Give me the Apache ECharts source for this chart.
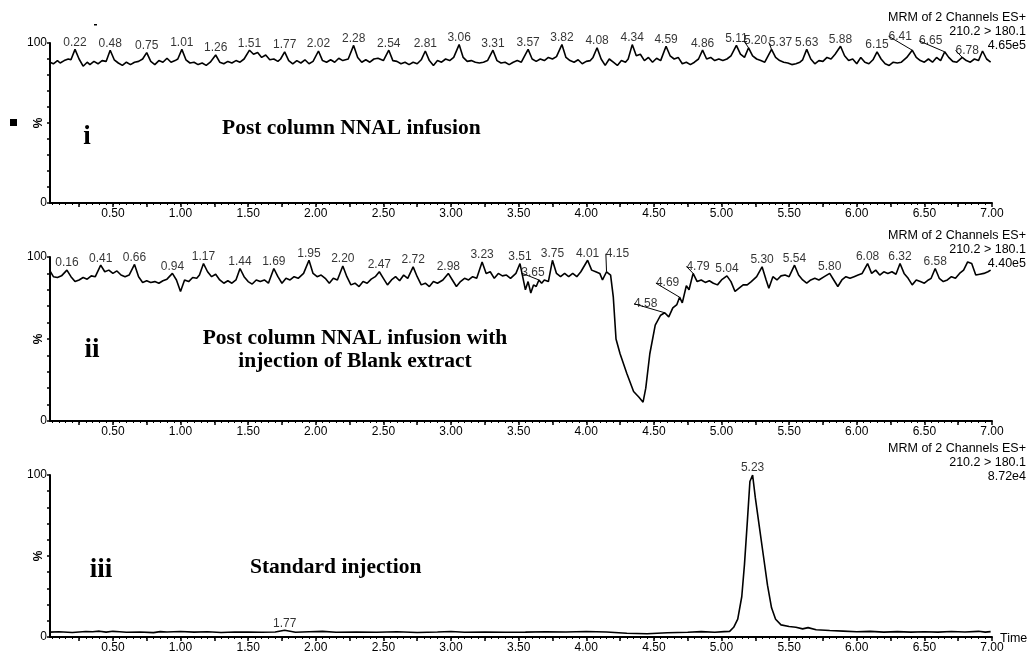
<!DOCTYPE html>
<html>
<head>
<meta charset="utf-8">
<script src="https://cdn.jsdelivr.net/npm/echarts@6/dist/echarts.min.js"></script>
<style>
html, body { margin: 0; background: #fff; }
#chart { width: 1029px; height: 659px; }
</style>
</head>
<body>
<div id="chart"></div>
<script>
// time axis tick labels (min)
const xTickLabels = ['0.50', '1.00', '1.50', '2.00', '2.50', '3.00', '3.50', '4.00', '4.50', '5.00', '5.50', '6.00', '6.50', '7.00']

// panel i : post column NNAL infusion  [time, %]
const traceI = [
    [0.035, 88], [0.06, 87], [0.09, 89], [0.11, 87.5], [0.14, 89], [0.17, 90], [0.19, 89.5], [0.22, 96], [0.25, 90], [0.28, 85.5],
    [0.31, 88], [0.33, 86.5], [0.36, 88.5], [0.39, 87], [0.42, 89], [0.45, 88.5], [0.48, 95.5], [0.51, 89.5], [0.54, 87.5], [0.57, 86],
    [0.60, 88], [0.63, 86.5], [0.66, 88], [0.69, 88.5], [0.72, 90], [0.75, 94], [0.78, 88.5], [0.81, 86.5], [0.84, 89], [0.87, 88],
    [0.90, 90.5], [0.93, 88], [0.96, 89], [0.98, 90], [1.01, 96], [1.04, 89.5], [1.07, 87.5], [1.10, 88], [1.13, 86.5], [1.16, 87.5],
    [1.19, 86], [1.22, 88], [1.26, 92.5], [1.29, 88], [1.32, 87], [1.35, 88.5], [1.38, 87.5], [1.41, 89], [1.44, 88], [1.47, 90],
    [1.51, 95.5], [1.54, 93], [1.57, 94], [1.60, 91], [1.63, 92.5], [1.66, 89.5], [1.69, 90], [1.72, 88.5], [1.74, 90], [1.77, 94.5],
    [1.80, 89], [1.83, 87], [1.86, 89], [1.89, 87.5], [1.92, 89.5], [1.95, 87], [1.98, 88.5], [2.02, 95], [2.05, 89], [2.08, 88],
    [2.11, 89.5], [2.14, 88], [2.17, 90.5], [2.20, 89], [2.24, 90], [2.28, 98.5], [2.31, 91], [2.34, 88], [2.37, 89.5], [2.40, 88],
    [2.43, 90], [2.46, 90.5], [2.50, 89], [2.54, 95.5], [2.57, 89], [2.60, 88.5], [2.63, 87], [2.66, 88], [2.69, 86.5], [2.72, 88],
    [2.75, 87], [2.78, 89.5], [2.81, 95], [2.84, 89], [2.87, 86], [2.90, 89], [2.93, 88], [2.96, 90], [2.99, 89], [3.02, 91],
    [3.06, 99], [3.09, 91], [3.12, 88.5], [3.15, 89], [3.18, 88], [3.21, 87.5], [3.24, 88], [3.27, 89], [3.31, 95.5], [3.34, 89],
    [3.37, 87.5], [3.40, 88], [3.43, 86.5], [3.46, 88], [3.49, 89], [3.52, 88], [3.57, 96], [3.60, 90], [3.63, 88.5], [3.66, 90],
    [3.69, 89], [3.72, 91], [3.75, 90], [3.78, 91.5], [3.82, 99], [3.85, 91], [3.88, 89], [3.91, 88], [3.94, 89.5], [3.97, 87],
    [4.00, 88.5], [4.03, 89], [4.05, 91], [4.08, 97], [4.11, 90], [4.14, 86], [4.17, 90], [4.20, 88], [4.23, 86], [4.26, 89],
    [4.29, 88], [4.31, 90], [4.34, 99], [4.37, 92], [4.40, 93], [4.43, 89], [4.46, 91], [4.49, 88], [4.52, 90.5], [4.55, 89],
    [4.59, 98], [4.62, 92], [4.65, 90], [4.68, 91], [4.71, 87], [4.74, 88], [4.77, 86.5], [4.80, 88], [4.83, 90], [4.86, 95.5],
    [4.89, 90], [4.92, 91], [4.95, 89], [4.98, 90], [5.01, 89], [5.04, 90], [5.07, 92], [5.11, 98.5], [5.14, 93], [5.17, 91],
    [5.20, 97], [5.23, 92], [5.26, 90], [5.29, 89], [5.32, 88], [5.37, 96], [5.40, 91], [5.43, 89], [5.46, 88], [5.49, 87.5],
    [5.52, 86.5], [5.55, 87], [5.58, 88], [5.60, 89.5], [5.63, 96], [5.66, 90], [5.69, 87], [5.72, 89], [5.75, 88.5], [5.78, 91],
    [5.81, 90], [5.84, 93], [5.88, 98], [5.91, 92], [5.94, 89], [5.97, 90], [6.00, 87], [6.03, 91], [6.06, 88], [6.09, 87],
    [6.12, 89.5], [6.15, 94.5], [6.18, 90], [6.21, 87], [6.24, 86], [6.27, 88], [6.30, 87.5], [6.33, 88], [6.37, 91], [6.41, 95.5],
    [6.44, 91], [6.47, 89], [6.50, 88], [6.53, 90], [6.56, 88], [6.59, 91], [6.62, 89], [6.65, 94.5], [6.68, 91], [6.71, 88.5],
    [6.74, 88], [6.78, 91], [6.81, 89], [6.84, 88], [6.87, 90], [6.90, 89], [6.93, 95], [6.96, 90], [6.99, 88]
]
const peaksI = [0.22, 0.48, 0.75, 1.01, 1.26, 1.51, 1.77, 2.02, 2.28, 2.54, 2.81, 3.06, 3.31, 3.57, 3.82, 4.08, 4.34, 4.59, 4.86, 5.11, 5.20, 5.37, 5.63, 5.88, 6.15, 6.41, 6.65, 6.78]

// panel ii : infusion with injection of blank extract
const traceII = [
    [0.035, 91.5], [0.06, 88], [0.09, 87.5], [0.12, 88.5], [0.16, 92], [0.19, 88], [0.22, 85], [0.25, 86], [0.28, 87.5], [0.31, 86.5],
    [0.34, 88.5], [0.37, 88], [0.41, 95], [0.44, 91], [0.47, 92], [0.50, 90], [0.53, 91.5], [0.56, 89], [0.59, 88], [0.62, 89],
    [0.66, 95.5], [0.69, 88], [0.72, 84.5], [0.75, 85.5], [0.78, 84.5], [0.81, 85], [0.84, 84], [0.87, 85.5], [0.90, 86.5], [0.94, 90],
    [0.97, 86], [1.00, 79], [1.03, 86], [1.06, 85], [1.09, 87.5], [1.12, 87], [1.14, 89], [1.17, 96], [1.20, 91], [1.23, 88],
    [1.26, 89.5], [1.29, 86], [1.32, 84], [1.35, 85.5], [1.38, 84], [1.41, 86], [1.44, 93], [1.47, 88], [1.50, 85], [1.53, 83.5],
    [1.56, 86], [1.59, 85], [1.62, 86], [1.65, 84], [1.69, 93], [1.72, 88], [1.75, 84], [1.78, 87], [1.81, 86], [1.84, 88],
    [1.87, 87], [1.91, 90], [1.95, 98], [1.98, 90], [2.01, 88], [2.04, 89], [2.07, 87], [2.10, 84], [2.13, 87], [2.16, 86],
    [2.20, 94.5], [2.23, 88], [2.26, 83], [2.29, 84], [2.32, 82], [2.35, 85], [2.38, 84], [2.41, 86.5], [2.44, 88], [2.47, 91],
    [2.50, 87], [2.53, 83], [2.56, 86], [2.59, 88], [2.62, 85.5], [2.65, 89], [2.68, 87], [2.72, 94], [2.75, 88], [2.78, 83],
    [2.81, 84], [2.84, 82], [2.87, 85], [2.90, 84], [2.94, 86], [2.98, 90], [3.01, 86], [3.04, 82], [3.07, 85], [3.10, 87],
    [3.13, 86], [3.16, 88], [3.19, 87], [3.23, 97], [3.26, 90], [3.29, 91], [3.32, 87], [3.35, 90], [3.38, 88.5], [3.41, 89],
    [3.44, 87], [3.48, 90], [3.51, 96], [3.53, 88], [3.55, 80], [3.57, 85], [3.59, 78], [3.61, 83], [3.63, 82], [3.65, 86],
    [3.67, 84], [3.69, 86], [3.72, 85], [3.75, 98], [3.78, 90], [3.81, 88], [3.84, 90], [3.87, 88], [3.90, 90], [3.93, 88],
    [3.96, 91], [4.01, 98], [4.04, 92], [4.07, 91], [4.10, 90], [4.12, 86], [4.15, 91], [4.18, 89], [4.20, 75.5], [4.22, 50],
    [4.25, 41], [4.30, 29], [4.35, 18], [4.39, 14.5], [4.42, 11.5], [4.44, 20], [4.47, 41], [4.51, 58.5], [4.55, 64.5], [4.58, 66],
    [4.61, 63.5], [4.64, 69], [4.67, 71], [4.69, 75.5], [4.71, 72], [4.74, 82.5], [4.76, 80], [4.79, 90], [4.82, 85], [4.85, 86],
    [4.88, 84.5], [4.91, 85.5], [4.94, 84], [4.97, 83], [5.00, 86], [5.04, 88.5], [5.07, 85], [5.10, 79], [5.13, 81], [5.16, 83],
    [5.19, 83], [5.22, 85], [5.26, 88], [5.30, 94], [5.33, 86], [5.35, 81], [5.38, 88], [5.41, 86], [5.44, 88.5], [5.47, 89],
    [5.50, 88], [5.54, 95], [5.57, 89], [5.60, 86], [5.63, 84], [5.66, 86], [5.69, 87], [5.72, 86], [5.76, 88], [5.80, 90],
    [5.83, 86], [5.86, 82], [5.89, 86], [5.92, 88], [5.95, 87], [5.98, 88], [6.01, 89], [6.04, 90], [6.08, 96], [6.11, 90],
    [6.14, 92], [6.17, 89], [6.20, 91], [6.23, 90], [6.26, 91], [6.29, 89.5], [6.32, 96], [6.35, 90], [6.38, 87], [6.41, 83],
    [6.44, 86], [6.47, 85], [6.50, 84], [6.53, 86], [6.55, 87], [6.58, 93], [6.61, 87], [6.64, 85], [6.67, 86], [6.70, 88],
    [6.73, 87], [6.76, 90], [6.79, 92], [6.82, 97], [6.85, 96], [6.88, 89], [6.91, 89.5], [6.94, 90], [6.97, 91], [6.99, 92]
]
const peaksII = [0.16, 0.41, 0.66, 0.94, 1.17, 1.44, 1.69, 1.95, 2.20, 2.47, 2.72, 2.98, 3.23, 3.51, 3.65, 3.75, 4.01, 4.15, 4.58, 4.69, 4.79, 5.04, 5.30, 5.54, 5.80, 6.08, 6.32, 6.58]

// panel iii : standard injection
const traceIII = [
    [0.035, 3], [0.1, 3.2], [0.2, 2.8], [0.3, 3.4], [0.35, 3.2], [0.4, 3.6], [0.45, 3], [0.5, 3.5], [0.55, 3.2], [0.6, 2.9],
    [0.7, 3.1], [0.8, 2.7], [0.85, 3.3], [0.9, 3.1], [1.0, 3.4], [1.1, 3], [1.2, 3.2], [1.3, 2.8], [1.4, 3.1], [1.5, 3],
    [1.6, 2.9], [1.7, 3.1], [1.77, 4.2], [1.85, 2.9], [1.95, 3.2], [2.05, 3.5], [2.15, 2.9], [2.3, 3.1], [2.45, 2.9], [2.6, 3.2],
    [2.75, 2.8], [2.9, 3.1], [3.0, 3.4], [3.1, 2.9], [3.25, 3.1], [3.4, 2.9], [3.55, 3], [3.7, 3.2], [3.85, 3.1], [4.0, 3.4],
    [4.15, 3.1], [4.3, 2.3], [4.45, 2], [4.6, 2.6], [4.75, 2.9], [4.85, 3.3], [4.95, 2.9], [5.02, 3.3], [5.06, 3.5], [5.09, 6],
    [5.12, 11], [5.15, 25], [5.17, 45], [5.19, 70], [5.21, 96], [5.23, 100], [5.25, 86], [5.28, 68], [5.31, 50], [5.34, 32],
    [5.37, 18], [5.40, 11], [5.44, 7.5], [5.50, 6.5], [5.55, 6], [5.60, 5], [5.64, 5.8], [5.70, 4.5], [5.80, 4], [5.90, 3.6],
    [6.0, 3.2], [6.1, 3.5], [6.2, 3], [6.3, 3.3], [6.4, 3], [6.5, 3.2], [6.6, 3], [6.7, 3.4], [6.8, 3.1], [6.9, 3.5],
    [6.95, 3], [6.99, 3.3]
]
const peaksIII = [1.77, 5.23]

const channelText = ['MRM of 2 Channels ES+', '210.2 > 180.1']
const intensities = ['4.65e5', '4.40e5', '8.72e4']

// label nudges [dx, dy] for crowded peak labels (drawn with a leader line)
const labelShift = [
    { '5.20': [7, 0], '5.37': [9, 0], '6.41': [-12, -7], '6.65': [-14, -4], '6.78': [5, 0] },
    { '3.65': [-6, 0], '4.15': [11, -11], '4.58': [-19, -2], '4.69': [-12, -7], '4.79': [5, 0] },
    {}
]

const panels = [
    { top: 43, height: 160, trace: traceI, peaks: peaksI },
    { top: 257, height: 164, trace: traceII, peaks: peaksII },
    { top: 475, height: 162, trace: traceIII, peaks: peaksIII }
]

const majorTicks = []
for (let i = 1; i <= 28; i++) majorTicks.push(i * 0.25)
const minorTicks = []
for (let i = 1; i < 140; i++) minorTicks.push(+(i * 0.05).toFixed(2))

const sans = 'Liberation Sans, Arial, sans-serif'
const serif = 'Liberation Serif, Times New Roman, serif'

let chart = echarts.init(document.getElementById('chart'))

let grid = [], xAxis = [], yAxis = [], series = []
panels.forEach(function (p, k) {
    grid.push({ left: 50, right: 37, top: p.top, height: p.height })
    xAxis.push({
        type: 'value', gridIndex: k, min: 0.035, max: 7,
        axisLine: { show: true, onZero: false, lineStyle: { color: '#000', width: 2 } },
        axisTick: { show: true, customValues: majorTicks, length: 4, lineStyle: { color: '#000', width: 1.5 } },
        axisLabel: {
            customValues: xTickLabels.map(Number), margin: 5,
            formatter: function (v) { return v.toFixed(2) },
            color: '#000', fontFamily: sans, fontSize: 12
        },
        splitLine: { show: false }
    })
    xAxis.push({
        type: 'value', gridIndex: k, min: 0.035, max: 7, position: 'bottom',
        axisLine: { show: false },
        axisTick: { show: true, customValues: minorTicks, length: 2, lineStyle: { color: '#000', width: 1 } },
        axisLabel: { show: false },
        splitLine: { show: false }
    })
    yAxis.push({
        type: 'value', gridIndex: k, min: 0, max: 100, interval: 10,
        axisLine: { show: true, onZero: false, lineStyle: { color: '#000', width: 2 } },
        axisTick: { show: true, length: 3, lineStyle: { color: '#000', width: 1.5 } },
        axisLabel: {
            margin: 3, color: '#000', fontFamily: sans, fontSize: 12,
            formatter: function (v) { return v === 100 ? '100' : (v === 0 ? '0' : '') }
        },
        splitLine: { show: false }
    })
    series.push({
        type: 'line', xAxisIndex: k * 2, yAxisIndex: k,
        data: p.trace, showSymbol: false, animation: false,
        lineStyle: { color: '#000', width: 1.6 }
    })
    let shifts = labelShift[k]
    let pts = p.peaks.map(function (t) {
        let hit = p.trace.find(function (d) { return Math.abs(d[0] - t) < 0.001 })
        let item = { value: [t, hit[1]] }
        if (shifts[t.toFixed(2)]) item.labelLine = { show: true }
        return item
    })
    series.push({
        type: 'scatter', xAxisIndex: k * 2, yAxisIndex: k,
        data: pts, symbolSize: 0, animation: false, silent: true,
        label: {
            show: true, position: 'top', distance: 1,
            color: '#000', fontFamily: sans, fontSize: 12,
            formatter: function (d) { return d.value[0].toFixed(2) }
        },
        labelLine: { show: false, lineStyle: { color: '#000', width: 1 } },
        labelLayout: function (params) {
            let t = pts[params.dataIndex].value[0].toFixed(2)
            let s = shifts[t]
            return s ? { dx: s[0], dy: s[1] } : {}
        }
    })
})

function txt(x, y, text, font, align, extra) {
    return Object.assign({
        type: 'text', x: x, y: y, silent: true,
        style: { text: text, font: font, fill: '#000', align: align || 'left', verticalAlign: 'middle' }
    }, extra || {})
}

let graphic = []
let mrmY = [[18, 32, 46], [236, 250, 264], [449, 463, 477]]
mrmY.forEach(function (ys, k) {
    graphic.push(txt(1026, ys[0], channelText[0], '12.5px ' + sans, 'right'))
    graphic.push(txt(1026, ys[1], channelText[1], '12.5px ' + sans, 'right'))
    graphic.push(txt(1026, ys[2], intensities[k], '12.5px ' + sans, 'right'))
    let mid = panels[k].top + panels[k].height / 2
    graphic.push(txt(39, mid, '%', 'bold 12px ' + sans, 'center', { rotation: Math.PI / 2 }))
})
graphic.push(txt(87, 137, 'i', 'bold 27px ' + serif, 'center'))
graphic.push(txt(222, 128, 'Post column NNAL infusion', 'bold 21.5px ' + serif, 'left'))
graphic.push(txt(92, 350, 'ii', 'bold 27px ' + serif, 'center'))
graphic.push(txt(355, 338, 'Post column NNAL infusion with', 'bold 21.5px ' + serif, 'center'))
graphic.push(txt(355, 361, 'injection of Blank extract', 'bold 21.5px ' + serif, 'center'))
graphic.push(txt(101, 570, 'iii', 'bold 27px ' + serif, 'center'))
graphic.push(txt(250, 567, 'Standard injection', 'bold 21.5px ' + serif, 'left'))
graphic.push(txt(1000, 639, 'Time', '12.5px ' + sans, 'left'))
graphic.push({ type: 'rect', silent: true, shape: { x: 10, y: 119, width: 7, height: 7 }, style: { fill: '#000' } })
graphic.push({ type: 'rect', silent: true, shape: { x: 94, y: 24, width: 3, height: 1.5 }, style: { fill: '#000' } })

chart.setOption({
    backgroundColor: '#fff',
    animation: false,
    grid: grid,
    xAxis: xAxis,
    yAxis: yAxis,
    series: series,
    graphic: graphic
})
</script>
</body>
</html>
